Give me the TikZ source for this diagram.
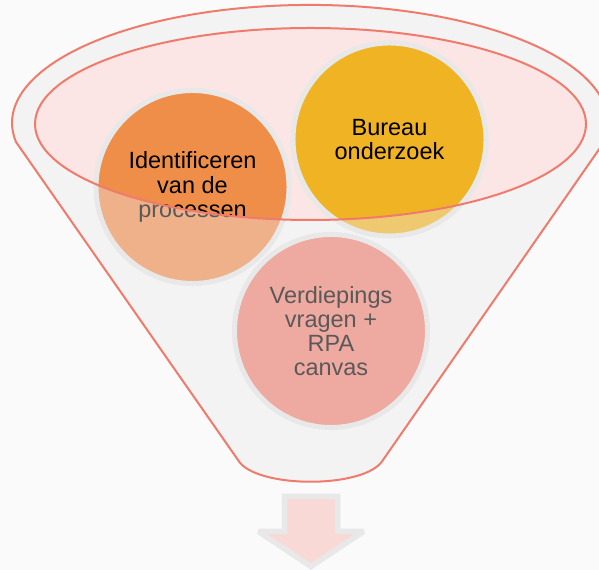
\documentclass[tikz,border=0pt]{standalone}
\usepackage{fontspec}
\setmainfont{Liberation Sans}
\definecolor{bggray}{HTML}{FAFAFA}
\definecolor{funnelgray}{HTML}{F3F3F3}
\definecolor{salmon}{HTML}{EF7B6C}
\definecolor{rimpink}{HTML}{FBE6E5}
\definecolor{ringgray}{HTML}{E8E8E8}
\definecolor{orangedark}{HTML}{EF8E49}
\definecolor{orangelight}{HTML}{EEB189}
\definecolor{yellowdark}{HTML}{EFB324}
\definecolor{yellowlight}{HTML}{EFC970}
\definecolor{pinkball}{HTML}{EEA9A0}
\definecolor{arrowpink}{HTML}{F9D9D6}
\definecolor{textgray}{HTML}{595959}

\begin{document}
\begin{tikzpicture}[x=0.025cm,y=0.025cm,
	ball/.style={circle,draw=ringgray,line width=0.125cm,minimum size=4.825cm,inner sep=0pt,align=center,font=\fontsize{16.7}{17.2}\selectfont}]
			\fill[bggray] (0,0) rectangle (599,570);
			\useasboundingbox (0,0) rectangle (599,570);
			\filldraw[fill=funnelgray,draw=salmon,line width=0.05cm] (16,428) arc[start angle=189.3,end angle=-9.3,x radius=298,y radius=118] -- (383,110) .. controls (366,81) and (255,81) .. (238,110) -- cycle;
			\fill[rimpink] (310.5,446) ellipse[x radius=275.5,y radius=96];
			\node[ball,fill=orangelight,text=textgray] (ident) at (192.5,383) {Identificeren\\van de\\processen};
			\node[ball,fill=yellowlight,text=textgray] (bureau) at (389.5,430.5) {Bureau\\onderzoek};
			\node[ball,fill=pinkball,text=textgray] (verdiep) at (331,239) {Verdiepings\\vragen +\\RPA\\canvas};
			\begin{scope}
				\clip (310.5,446) ellipse[x radius=275.5,y radius=96];
				\node[ball,fill=orangedark] (identtop) at (ident) {Identificeren\\van de\\processen};
				\node[ball,fill=yellowdark] (bureautop) at (bureau) {Bureau\\onderzoek};
			\end{scope}
			\draw[salmon,line width=0.05cm] (310.5,446) ellipse[x radius=275.5,y radius=96];
			\draw[ringgray,fill=arrowpink,line width=0.1375cm,miter limit=3] (284.5,73.5) -- (337.5,73.5) -- (337.5,38.5) -- (363.5,38.5) -- (311,3.5) -- (258.5,38.5) -- (284.5,38.5) -- cycle;
		\end{tikzpicture}
\end{document}
